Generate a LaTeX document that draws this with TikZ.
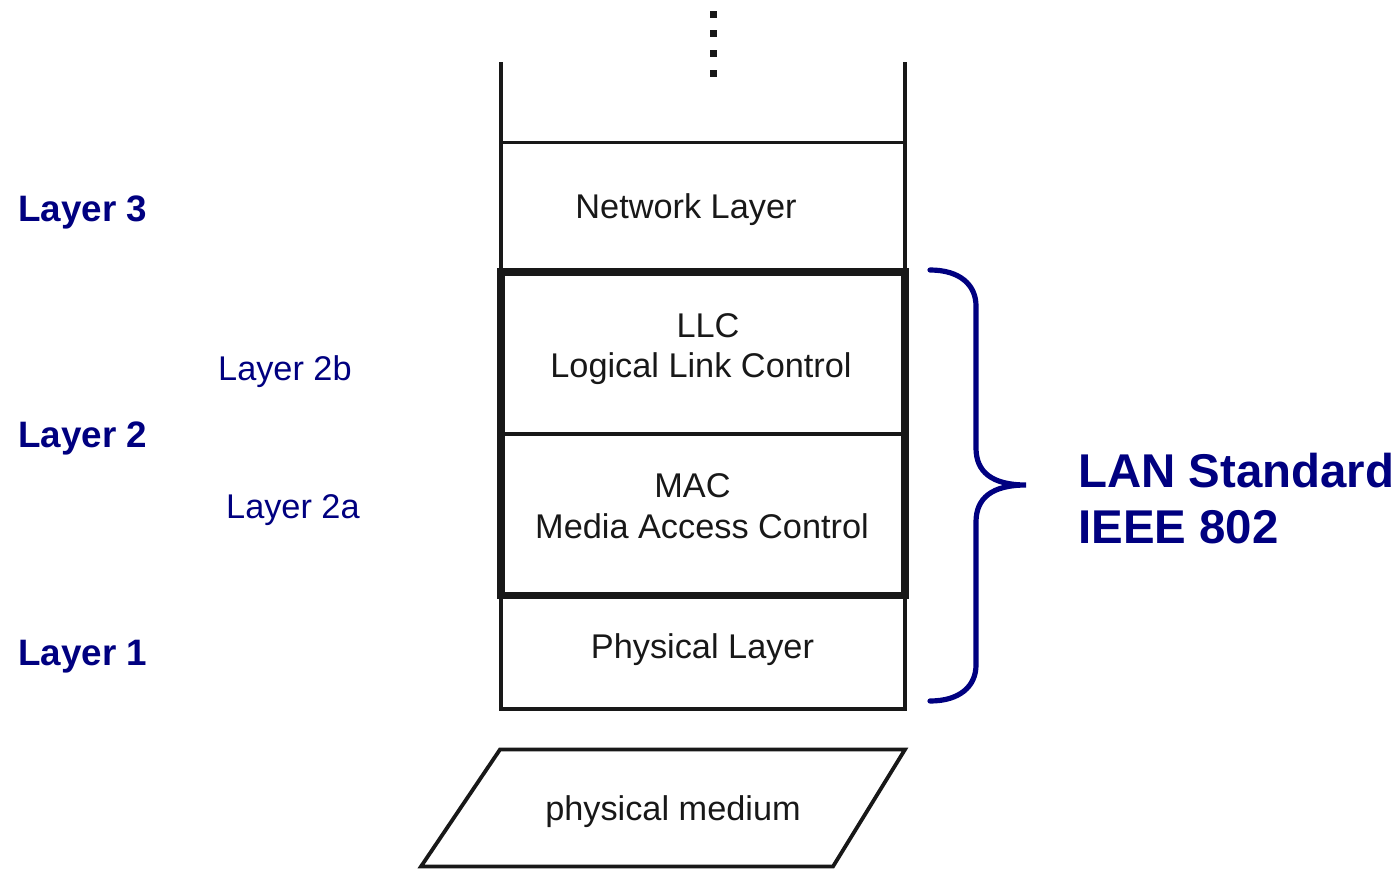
\documentclass[tikz,border=0pt]{standalone}
\usepackage{fontspec}
\setmainfont{Liberation Sans}
\usetikzlibrary{fit}
\definecolor{navyblue}{RGB}{0,0,128}
\definecolor{ink}{RGB}{24,24,24}
\begin{document}
\begin{tikzpicture}[x=1pt,y=-1pt,
  boxtext/.style={inner sep=0pt, anchor=base, text=ink, font=\fontsize{34.3}{40}\selectfont},
  layerbox/.style={draw=ink, line width=3.8pt, minimum width=404pt, inner sep=0pt, outer sep=0pt},
  stdbox/.style={draw=ink, line width=7.5pt, inner sep=0pt, outer sep=0pt},
  openline/.style={draw=ink, line width=3.5pt},
  dotsq/.style={fill=ink, minimum size=7pt, inner sep=0pt, outer sep=0pt},
  biglabel/.style={inner sep=0pt, anchor=base west, text=navyblue, font=\fontsize{36.8}{40}\selectfont\bfseries},
  sublabel/.style={inner sep=0pt, anchor=base west, text=navyblue, font=\fontsize{34.3}{40}\selectfont},
  stdlabel/.style={inner sep=0pt, anchor=base west, text=navyblue, font=\fontsize{47.4}{56}\selectfont\bfseries},
  bracestyle/.style={draw=navyblue, line width=5.2pt, line cap=round},
  mediumstyle/.style={draw=ink, line width=3.8pt, line join=miter}
]
\useasboundingbox (0,0) rectangle (1400,870);

% layer boxes
\node[layerbox, minimum height=129.5pt] (net) at (703,207.25) {};
\node[layerbox, minimum height=161.7pt] (llc) at (703,352.85) {};
\node[layerbox, minimum height=161.8pt] (mac) at (703,514.6) {};
\node[layerbox, minimum height=113.2pt] (phy) at (703,652.1) {};
\node[stdbox, fit=(llc)(mac)] (std) {};

% open top of the stack
\draw[openline] (net.north west) -- (net.north west |- 0,62);
\draw[openline] (net.north east) -- (net.north east |- 0,62);

% dots
\node[dotsq] (d1) at (713.7,14.5) {};
\node[dotsq] (d2) at (713.7,33) {};
\node[dotsq] (d3) at (713.7,53.2) {};
\node[dotsq] (d4) at (713.7,73.3) {};

% box texts
\node[boxtext] (tnet) at (686,218) {Network Layer};
\node[boxtext] (tllc1) at (708,337) {LLC};
\node[boxtext] (tllc2) at (701,377) {Logical Link Control};
\node[boxtext] (tmac1) at (692.5,497) {MAC};
\node[boxtext] (tmac2) at (702,538) {Media Access Control};
\node[boxtext] (tphy) at (702.5,658) {Physical Layer};

% physical medium
\coordinate (m1) at (500,749.5);
\coordinate (m2) at (905,749.5);
\coordinate (m3) at (833,866.5);
\coordinate (m4) at (421,866.5);
\draw[mediumstyle] (m1) -- (m2) -- (m3) -- (m4) -- cycle;
\node[boxtext] (tmed) at (673,820) {physical medium};

% left labels
\node[biglabel] (l3) at (18,221) {Layer 3};
\node[sublabel] (l2b) at (218,380) {Layer 2b};
\node[biglabel] (l2) at (18,447) {Layer 2};
\node[sublabel] (l2a) at (226,518) {Layer 2a};
\node[biglabel] (l1) at (18,665) {Layer 1};

% brace
\coordinate (btop) at (930,270);
\coordinate (btip) at (1026,485);
\coordinate (bbot) at (930,701);
\draw[bracestyle] (btop) .. controls (960,270) and (976,285) .. (976,306)
  -- (976,448) .. controls (976,472) and (992,485) .. (btip)
  .. controls (992,485) and (976,498) .. (976,522)
  -- (976,665) .. controls (976,686) and (960,701) .. (bbot);

% right label
\node[stdlabel] (lan1) at (1078,487) {LAN Standard};
\node[stdlabel] (lan2) at (1078,543) {IEEE 802};
\end{tikzpicture}
\end{document}
